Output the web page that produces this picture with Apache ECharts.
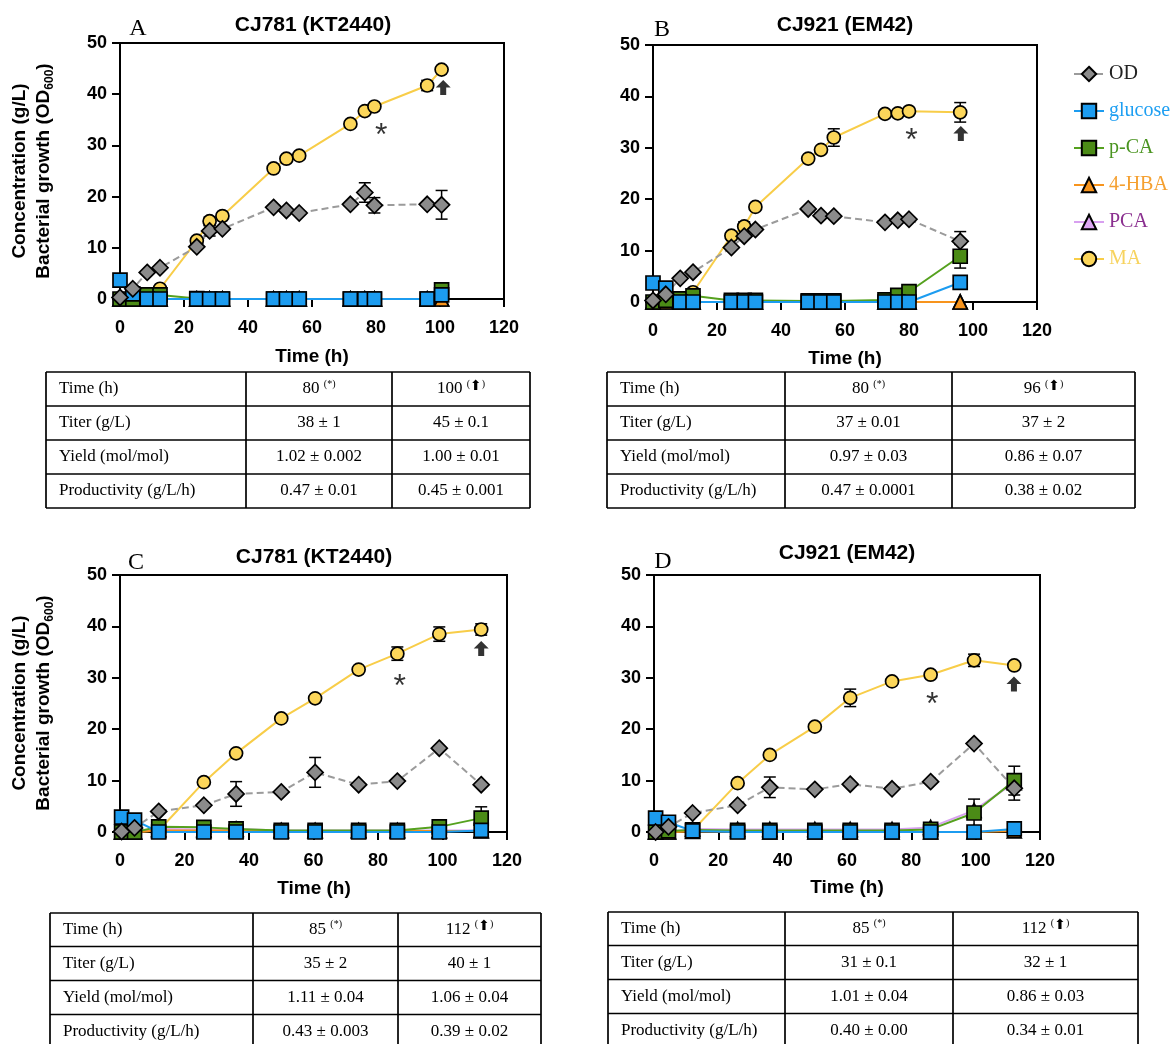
<!DOCTYPE html>
<html>
<head>
<meta charset="utf-8">
<title>CJ781 / CJ921 fed-batch</title>
<script src="https://cdn.jsdelivr.net/npm/echarts@6/dist/echarts.min.js"></script>
<style>
  html, body { margin: 0; padding: 0; background: #fff; }
  #chart { width: 1174px; height: 1044px; }
</style>
</head>
<body>
<div id="chart"></div>
<script>
// ---------- values ----------
// panel A : CJ781 (KT2440)
var tA     = [0, 4, 8.5, 12.5, 24, 28, 32, 48, 52, 56, 72, 76.5, 79.5, 96, 100.5];
var odA    = [0.3, 2.0, 5.2, 6.1, 10.2, 13.3, 13.7, 17.9, 17.3, 16.8, 18.5, 20.8, 18.3, 18.5, 18.4];
var glcA   = [3.7, 1.0, 0, 0, 0, 0, 0, 0, 0, 0, 0, 0, 0, 0, 0.8];
var coumA  = [0, 0, 0.8, 0.8, 0.1, 0, 0, 0, 0, 0, 0, 0, 0, 0, 1.8];
var hbaA   = [0, 0, 0, 0, 0, 0, 0, 0, 0, 0, 0, 0, 0, 0, 0];
var protA  = [0, 0, 0, 0, 0, 0, 0, 0, 0, 0, 0, 0, 0, 0, 0];
var maA    = [0, 0, 0.3, 2.0, 11.4, 15.2, 16.2, 25.5, 27.4, 28.0, 34.2, 36.7, 37.6, 41.7, 44.8];
var errA   = [[28, 15.2, 0.8], [96, 41.7, 1.0], [28, 13.3, 1.0], [76.5, 20.8, 1.9], [79.5, 18.3, 1.5], [100.5, 18.4, 2.8]];

// panel B : CJ921 (EM42)
var tB     = [0, 4, 8.5, 12.5, 24.5, 28.5, 32, 48.5, 52.5, 56.5, 72.5, 76.5, 80, 96];
var odB    = [0.3, 1.5, 4.6, 5.8, 10.6, 12.8, 14.1, 18.1, 16.8, 16.7, 15.5, 15.9, 16.1, 11.8];
var glcB   = [3.7, 2.7, 0, 0, 0, 0, 0, 0, 0, 0, 0, 0, 0, 3.8];
var coumB  = [0, 0.3, 0.6, 1.2, 0.3, 0.3, 0.3, 0.2, 0.2, 0.2, 0.4, 1.3, 2.0, 8.9];
var hbaB   = [0, 0, 0, 0, 0, 0, 0, 0, 0, 0, 0, 0, 0, 0];
var protB  = [0, 0, 0, 0, 0, 0, 0, 0, 0, 0, 0, 0, 0, 0];
var maB    = [0, 0, 0.3, 1.9, 12.9, 14.7, 18.5, 27.9, 29.6, 32.0, 36.6, 36.7, 37.1, 36.9];
var errB   = [[28.5, 14.7, 0.9], [56.5, 32.0, 1.7], [96, 36.9, 1.9], [96, 11.8, 1.9], [96, 8.9, 2.3], [96, 3.8, 1.3]];

// panel C : CJ781 (KT2440)
var tC     = [0.5, 4.5, 12, 26, 36, 50, 60.5, 74, 86, 99, 112];
var odC    = [0.1, 0.8, 4.0, 5.2, 7.4, 7.8, 11.6, 9.2, 9.9, 16.3, 9.2];
var glcC   = [2.9, 2.3, 0, 0, 0, 0, 0, 0, 0, 0, 0.3];
var coumC  = [0, 0, 1.0, 0.9, 0.6, 0.3, 0.3, 0.3, 0.3, 1.0, 2.7];
var hbaC   = [0, 0, 0.3, 0.3, 0.3, 0.2, 0.2, 0.2, 0.2, 0.2, 0.2];
var protC  = [0, 0, 0.6, 0.5, 0.6, 0.3, 0.3, 0.3, 0.3, 0.3, 0.3];
var maC    = [0, 0, 0.3, 9.7, 15.3, 22.1, 26.0, 31.6, 34.7, 38.5, 39.4];
var errC   = [[86, 34.7, 1.3], [99, 38.5, 1.4], [112, 39.4, 1.1], [36, 7.4, 2.4], [60.5, 11.6, 2.9], [112, 2.7, 2.2]];

// panel D : CJ921 (EM42)
var tD     = [0.5, 4.5, 12, 26, 36, 50, 61, 74, 86, 99.5, 112];
var odD    = [0, 1.0, 3.7, 5.2, 8.7, 8.3, 9.3, 8.4, 9.8, 17.2, 8.5];
var glcD   = [2.7, 1.9, 0.2, 0, 0, 0, 0, 0, 0, 0, 0.6];
var coumD  = [0, 0.2, 0.4, 0.3, 0.3, 0.3, 0.3, 0.3, 0.5, 3.7, 10.0];
var hbaD   = [0, 0, 0.1, 0.1, 0, 0, 0, 0, 0, 0, 0.2];
var protD  = [0, 0, 0.6, 0.5, 0.5, 0.5, 0.5, 0.5, 0.9, 4.2, 9.6];
var maD    = [0, 0, 0.3, 9.5, 15.0, 20.5, 26.1, 29.3, 30.6, 33.4, 32.4];
var errD   = [[61, 26.1, 1.7], [99.5, 33.4, 1.2], [36, 8.7, 2.0], [112, 8.5, 2.3], [99.5, 3.7, 2.7], [112, 10.0, 2.8]];

// "*" and arrow markers, in data units
var starAt  = [[81.6, 33.6], [80.8, 33.0], [86.7, 29.9], [86.5, 26.4]];
var arrowAt = [[101, 41.3], [96.2, 32.8], [112, 35.7], [111.9, 28.8]];

var panelTitles  = ['CJ781 (KT2440)', 'CJ921 (EM42)', 'CJ781 (KT2440)', 'CJ921 (EM42)'];
var panelLetters = ['A', 'B', 'C', 'D'];
var xTicks = [0, 20, 40, 60, 80, 100, 120];
var yTicks = [0, 10, 20, 30, 40, 50];

// tables under each panel
var rowLabels   = ['Time (h)', 'Titer (g/L)', 'Yield (mol/mol)', 'Productivity (g/L/h)'];
var tableA_star  = ['80', '38 ± 1', '1.02 ± 0.002', '0.47 ± 0.01'];
var tableA_arrow = ['100', '45 ± 0.1', '1.00 ± 0.01', '0.45 ± 0.001'];
var tableB_star  = ['80', '37 ± 0.01', '0.97 ± 0.03', '0.47 ± 0.0001'];
var tableB_arrow = ['96', '37 ± 2', '0.86 ± 0.07', '0.38 ± 0.02'];
var tableC_star  = ['85', '35 ± 2', '1.11 ± 0.04', '0.43 ± 0.003'];
var tableC_arrow = ['112', '40 ± 1', '1.06 ± 0.04', '0.39 ± 0.02'];
var tableD_star  = ['85', '31 ± 0.1', '1.01 ± 0.04', '0.40 ± 0.00'];
var tableD_arrow = ['112', '32 ± 1', '0.86 ± 0.03', '0.34 ± 0.01'];

// ---------- look ----------
var SANS = '"Liberation Sans", Arial, sans-serif';
var SERIF = '"Liberation Serif", "Times New Roman", serif';
var arrowPath = 'path://M5,0 L10,5 L7,5 L7,10 L3,10 L3,5 L0,5 Z';

var names = ['OD', 'glucose', 'p-CA', '4-HBA', 'PCA', 'MA'];
var look = {
  'OD':      { symbol: 'diamond',  size: 16, fill: '#8b8b8b', line: '#9b9b9b', dash: [7, 4], text: '#222222' },
  'glucose': { symbol: 'rect',     size: 14, fill: '#1c9cf0', line: '#1c9cf0', text: '#1e9ff2' },
  'p-CA':    { symbol: 'rect',     size: 14, fill: '#4b8b16', line: '#55a11e', text: '#4a9420' },
  '4-HBA':   { symbol: 'triangle', size: 14, fill: '#f7941d', line: '#f7941d', text: '#f5a030' },
  'PCA':     { symbol: 'triangle', size: 14, fill: '#dca6f2', line: '#d8a0f0', text: '#8a2f8f' },
  'MA':      { symbol: 'circle',   size: 13, fill: '#fcd65a', line: '#f8cd48', text: '#f7d35e' }
};

var panels = [
  { t: tA, 'OD': odA, 'glucose': glcA, 'p-CA': coumA, '4-HBA': hbaA, 'PCA': protA, 'MA': maA, err: errA },
  { t: tB, 'OD': odB, 'glucose': glcB, 'p-CA': coumB, '4-HBA': hbaB, 'PCA': protB, 'MA': maB, err: errB },
  { t: tC, 'OD': odC, 'glucose': glcC, 'p-CA': coumC, '4-HBA': hbaC, 'PCA': protC, 'MA': maC, err: errC },
  { t: tD, 'OD': odD, 'glucose': glcD, 'p-CA': coumD, '4-HBA': hbaD, 'PCA': protD, 'MA': maD, err: errD }
];

var grids = [
  { left: 120, top: 43, width: 384, height: 256 },
  { left: 653, top: 45, width: 384, height: 257 },
  { left: 120, top: 575, width: 387, height: 257 },
  { left: 654, top: 575, width: 386, height: 257 }
];

function zip(t, v) {
  return t.map(function (x, i) { return [x, v[i]]; });
}

function errRender(params, api) {
  var x = api.value(0), y = api.value(1), e = api.value(2);
  var hi = api.coord([x, y + e]);
  var lo = api.coord([x, y - e]);
  var hw = 6;
  var st = { stroke: '#000', lineWidth: 1.5 };
  return {
    type: 'group',
    children: [
      { type: 'line', shape: { x1: hi[0], y1: hi[1], x2: lo[0], y2: lo[1] }, style: st },
      { type: 'line', shape: { x1: hi[0] - hw, y1: hi[1], x2: hi[0] + hw, y2: hi[1] }, style: st },
      { type: 'line', shape: { x1: lo[0] - hw, y1: lo[1], x2: lo[0] + hw, y2: lo[1] }, style: st }
    ]
  };
}

var axisLine = { onZero: false, lineStyle: { color: '#000', width: 2 } };
var axisTick = { length: 8, lineStyle: { color: '#000', width: 2 } };
var axisLabel = { color: '#000', fontFamily: SANS, fontWeight: 'bold', fontSize: 18 };

var xAxes = [], yAxes = [], series = [];
grids.forEach(function (g, i) {
  xAxes.push({
    type: 'value', gridIndex: i, min: xTicks[0], max: xTicks[xTicks.length - 1], interval: xTicks[1] - xTicks[0],
    axisLine: axisLine, axisTick: axisTick, splitLine: { show: false },
    axisLabel: Object.assign({ margin: 20 }, axisLabel)
  });
  yAxes.push({
    type: 'value', gridIndex: i, min: yTicks[0], max: yTicks[yTicks.length - 1], interval: yTicks[1] - yTicks[0],
    axisLine: axisLine, axisTick: axisTick, splitLine: { show: false },
    axisLabel: Object.assign({ margin: 13 }, axisLabel)
  });
});

panels.forEach(function (p, i) {
  series.push({
    type: 'custom', xAxisIndex: i, yAxisIndex: i, z: 1, silent: true,
    renderItem: errRender, data: p.err, encode: { x: 0, y: 1 }
  });
  // GraphPad draws the first data set on top, so go backwards
  names.slice().reverse().forEach(function (name) {
    var s = look[name];
    series.push({
      name: name, type: 'line', xAxisIndex: i, yAxisIndex: i,
      data: zip(p.t, p[name]),
      symbol: s.symbol, symbolSize: s.size, showAllSymbol: true, clip: false,
      lineStyle: { color: s.line, width: 2, type: s.dash ? s.dash : 'solid' },
      itemStyle: { color: s.fill, borderColor: '#000', borderWidth: 1.7 },
      emphasis: { disabled: true }, z: 2
    });
  });
  series.push({
    type: 'scatter', xAxisIndex: i, yAxisIndex: i, data: [starAt[i]], symbolSize: 1, silent: true,
    itemStyle: { color: 'rgba(0,0,0,0)' },
    label: { show: true, position: 'inside', formatter: '*', fontSize: 32, color: '#000', fontFamily: SANS, offset: [0, 9] },
    z: 5
  });
  series.push({
    type: 'scatter', xAxisIndex: i, yAxisIndex: i, data: [arrowAt[i]], symbol: arrowPath, symbolSize: [15, 15],
    silent: true, itemStyle: { color: '#000' }, z: 5
  });
});

// ---------- texts and tables ----------
var graphics = [];
function txt(x, y, text, font, extra) {
  var style = Object.assign({
    text: text, x: 0, y: 0, fill: '#000',
    font: font, textAlign: 'center', textVerticalAlign: 'middle', align: 'center', verticalAlign: 'middle'
  }, extra || {});
  return { type: 'text', x: x, y: y, style: style, silent: true };
}

var titlePos  = [[313, 25], [845, 25], [314, 557], [847, 553]];
var letterPos = [[138, 29], [662, 30], [136, 563], [663, 562]];
var xNamePos  = [[312, 357], [845, 359], [314, 889], [847, 888]];
titlePos.forEach(function (p, i) {
  graphics.push(txt(p[0], p[1], panelTitles[i], 'bold 21px ' + SANS));
  graphics.push(txt(letterPos[i][0], letterPos[i][1], panelLetters[i], '24px ' + SERIF));
  graphics.push(txt(xNamePos[i][0], xNamePos[i][1], 'Time (h)', 'bold 19px ' + SANS));
});

var yRich = {
  a: { fontSize: 19, fontWeight: 'bold', fontFamily: SANS, lineHeight: 24, fill: '#000' },
  s: { fontSize: 12, fontWeight: 'bold', fontFamily: SANS, lineHeight: 12, verticalAlign: 'bottom', fill: '#000' }
};
[[32, 171], [32, 703]].forEach(function (p) {
  var t = txt(p[0], p[1], '{a|Concentration (g/L)}\n{a|Bacterial growth (OD}{s|600}{a|)}', 'bold 19px ' + SANS,
    { rich: yRich });
  t.rotation = Math.PI / 2;
  graphics.push(t);
});

var tableRich = {
  v:  { fontSize: 17, fontFamily: SERIF, lineHeight: 20, fill: '#000' },
  s:  { fontSize: 10, fontFamily: SERIF, lineHeight: 20, verticalAlign: 'top', fill: '#000' },
  ar: { fontSize: 14, fontFamily: '"DejaVu Sans", sans-serif', lineHeight: 20, verticalAlign: 'top', fill: '#000' }
};
function table(cols, rows, starCol, arrowCol) {
  var st = { stroke: '#000', lineWidth: 1.7, fill: null };
  var x0 = cols[0], x1 = cols[cols.length - 1];
  rows.forEach(function (y) {
    graphics.push({ type: 'line', shape: { x1: x0, y1: y, x2: x1, y2: y }, style: st, silent: true });
  });
  cols.forEach(function (x) {
    graphics.push({ type: 'line', shape: { x1: x, y1: rows[0], x2: x, y2: rows[rows.length - 1] }, style: st, silent: true });
  });
  rowLabels.forEach(function (lab, r) {
    var yc = (rows[r] + rows[r + 1]) / 2;
    graphics.push(txt(x0 + 13, yc, lab, '17px ' + SERIF, { textAlign: 'left', align: 'left' }));
    var c1 = (cols[1] + cols[2]) / 2, c2 = (cols[2] + cols[3]) / 2;
    var a = starCol[r], b = arrowCol[r];
    if (r === 0) {
      a = '{v|' + a + ' }{s|(*)}';
      b = '{v|' + b + ' }{s|(}{ar|⬆}{s|)}';
    } else {
      a = '{v|' + a + '}';
      b = '{v|' + b + '}';
    }
    graphics.push(txt(c1, yc, a, '17px ' + SERIF, { rich: tableRich }));
    graphics.push(txt(c2, yc, b, '17px ' + SERIF, { rich: tableRich }));
  });
}
table([46, 246, 392, 530], [372, 406, 440, 474, 508], tableA_star, tableA_arrow);
table([607, 785, 952, 1135], [372, 406, 440, 474, 508], tableB_star, tableB_arrow);
table([50, 253, 398, 541], [913, 946.5, 980.5, 1014.5, 1048], tableC_star, tableC_arrow);
table([608, 785, 953, 1138], [912, 945.5, 979.5, 1013.5, 1047], tableD_star, tableD_arrow);

var chart = echarts.init(document.getElementById('chart'), null, { renderer: 'canvas' });
chart.setOption({
  animation: false,
  backgroundColor: '#fff',
  grid: grids.map(function (g) {
    return Object.assign({ show: true, borderColor: '#000', borderWidth: 2, backgroundColor: 'transparent' }, g);
  }),
  xAxis: xAxes,
  yAxis: yAxes,
  legend: {
    orient: 'vertical', left: 1068, top: 59,
    itemWidth: 30, itemHeight: 18, itemGap: 17, selectedMode: false,
    textStyle: { fontFamily: SERIF, fontSize: 20, lineHeight: 20 },
    data: names.map(function (n) { return { name: n, textStyle: { color: look[n].text } }; })
  },
  series: series,
  graphic: graphics
});
</script>
</body>
</html>
